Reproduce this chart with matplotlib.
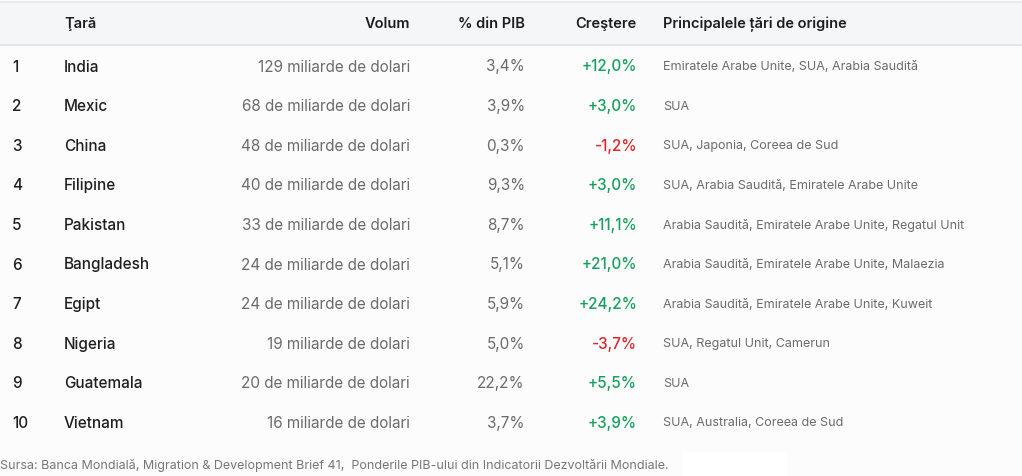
import matplotlib
matplotlib.use("Agg")
import matplotlib.pyplot as plt
from matplotlib.patches import Rectangle

plt.rcParams['font.family'] = ['Inter', 'DejaVu Sans']

# date din tabel
ranks = [1, 2, 3, 4, 5, 6, 7, 8, 9, 10]
countries = ["India", "Mexic", "China", "Filipine", "Pakistan",
             "Bangladesh", "Egipt", "Nigeria", "Guatemala", "Vietnam"]
volume_bn = [129, 68, 48, 40, 33, 24, 24, 19, 20, 16]
gdp_pct = [3.4, 3.9, 0.3, 9.3, 8.7, 5.1, 5.9, 5.0, 22.2, 3.7]
growth = [12.0, 3.0, -1.2, 3.0, 11.1, 21.0, 24.2, -3.7, 5.5, 3.9]
origins = [
    "Emiratele Arabe Unite, SUA, Arabia Saudită",
    "SUA",
    "SUA, Japonia, Coreea de Sud",
    "SUA, Arabia Saudită, Emiratele Arabe Unite",
    "Arabia Saudită, Emiratele Arabe Unite, Regatul Unit",
    "Arabia Saudită, Emiratele Arabe Unite, Malaezia",
    "Arabia Saudită, Emiratele Arabe Unite, Kuweit",
    "SUA, Regatul Unit, Camerun",
    "SUA",
    "SUA, Australia, Coreea de Sud",
]
headers = ["Ţară", "Volum", "% din PIB", "Creştere", "Principalele țări de origine"]
source = ("Sursa: Banca Mondială, Migration & Development Brief 41,  "
          "Ponderile PIB-ului din Indicatorii Dezvoltării Mondiale.")

W, H = 1022, 476
fig = plt.figure(figsize=(W / 100, H / 100), dpi=100)
fig.patch.set_facecolor("#fcfcfc")
ax = fig.add_axes([0, 0, 1, 1])
ax.set_xlim(0, W)
ax.set_ylim(H, 0)
ax.axis("off")

# header band
ax.add_patch(Rectangle((0, 2), W, 43, facecolor="#f5f6f8", edgecolor="none"))
ax.plot([0, W], [1.5, 1.5], color="#e8e9ec", lw=1.5)
ax.plot([0, W], [45, 45], color="#e3e4e7", lw=1.5)
ax.add_patch(Rectangle((683, 452), 104, 24, facecolor="white", edgecolor="none"))

hy = 24
hkw = dict(fontsize=10.5, fontweight="semibold", color="#1d1d1f", va="center")
ax.text(64, hy, headers[0], ha="left", **hkw)
ax.text(410, hy, headers[1], ha="right", **hkw)
ax.text(525, hy, headers[2], ha="right", **hkw)
ax.text(637, hy, headers[3], ha="right", **hkw)
ax.text(663, hy, headers[4], ha="left", **hkw)

y0, dy = 67, 39.6
for i in range(len(ranks)):
    y = y0 + i * dy
    ax.text(12, y, str(ranks[i]), fontsize=11, fontweight="medium",
            color="#1f1f1f", ha="left", va="center")
    ax.text(64, y, countries[i], fontsize=11, fontweight="medium",
            color="#1f1f1f", ha="left", va="center")
    v = volume_bn[i]
    de = "de " if 20 <= v < 100 else ""
    ax.text(410, y, f"{v} {de}miliarde de dolari", fontsize=11,
            color="#6b6b6b", ha="right", va="center")
    ax.text(525, y, f"{gdp_pct[i]:.1f}%".replace(".", ","), fontsize=11,
            color="#6b6b6b", ha="right", va="center")
    g = growth[i]
    col = "#17a05d" if g >= 0 else "#e0242b"
    ax.text(637, y, f"{g:+.1f}%".replace(".", ","), fontsize=11,
            fontweight="medium", color=col, ha="right", va="center")
    ax.text(663, y, origins[i], fontsize=9, color="#6b6b6b",
            ha="left", va="center")

ax.text(0, 465, source, fontsize=9, color="#777777", ha="left", va="center")

fig.savefig("out.png", dpi=100, facecolor=fig.get_facecolor())
